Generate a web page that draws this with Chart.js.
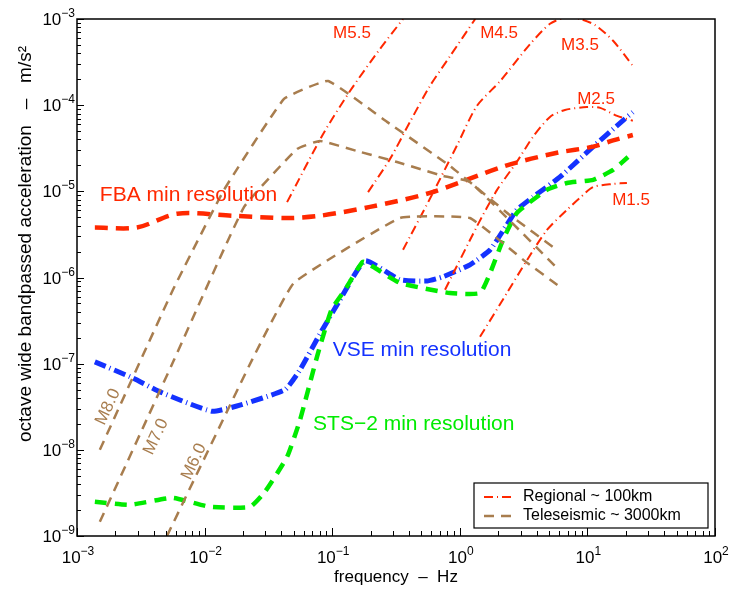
<!DOCTYPE html>
<html>
<head>
<meta charset="utf-8">
<script src="https://cdn.jsdelivr.net/npm/chart.js@4.4.1/dist/chart.umd.min.js"></script>
<style>
html, body { margin: 0; padding: 0; background: #fff; }
</style>
</head>
<body>
<canvas id="c" width="733" height="592"></canvas>
<script>
// axis ticks (labels are 10 raised to these exponents)
var xTickVals = [1e-3, 1e-2, 1e-1, 1e0, 1e1, 1e2];
var xTickExp = ['−3', '−2', '−1', '0', '1', '2'];
var yTickVals = [1e-9, 1e-8, 1e-7, 1e-6, 1e-5, 1e-4, 1e-3];
var yTickExp = ['−9', '−8', '−7', '−6', '−5', '−4', '−3'];

// instrument noise floors (Hz, m/s^2)
var fbaFreq = [0.00138, 0.00295, 0.0061, 0.0167, 0.0443, 0.080, 0.198, 0.583, 2.34, 5.78, 11.1, 15.9, 22.7];
var fbaAcc = [3.8e-6, 3.8e-6, 5.5e-6, 5.2e-6, 4.9e-6, 5.2e-6, 6.6e-6, 9.6e-6, 2.0e-5, 2.8e-5, 3.3e-5, 3.9e-5, 4.5e-5];
var vseFreq = [0.00138, 0.00275, 0.00447, 0.0114, 0.0189, 0.0427, 0.056, 0.080, 0.115, 0.181, 0.34, 0.553, 0.738, 1.2, 1.73, 2.34, 2.8, 3.75, 6.1, 11.1, 18.0, 22.7];
var vseAcc = [1.05e-7, 6.8e-8, 4.7e-8, 2.8e-8, 3.3e-8, 5.0e-8, 8.5e-8, 2.2e-7, 5.5e-7, 1.56e-6, 9.4e-7, 9.1e-7, 1.02e-6, 1.4e-6, 2.1e-6, 4.1e-6, 6.1e-6, 8.6e-6, 1.47e-5, 3.3e-5, 6.2e-5, 8.3e-5];
var stsFreq = [0.00138, 0.0026, 0.00556, 0.011, 0.0227, 0.0297, 0.0443, 0.056, 0.076, 0.0986, 0.126, 0.174, 0.209, 0.34, 0.838, 1.44, 1.73, 2.18, 2.8, 4.82, 6.92, 11.1, 15.9, 20.8];
var stsAcc = [2.5e-9, 2.3e-9, 2.77e-9, 2.18e-9, 2.18e-9, 3.26e-9, 8.3e-9, 2.23e-8, 1.2e-7, 4.2e-7, 7.2e-7, 1.52e-6, 1.33e-6, 8.65e-7, 6.6e-7, 6.6e-7, 1.13e-6, 2.73e-6, 5.6e-6, 1.04e-5, 1.25e-5, 1.36e-5, 1.77e-5, 2.5e-5];

// regional events ~100km
var m55Freq = [0.0443, 0.0847, 0.138, 0.237, 0.359];
var m55Acc = [7.5e-6, 4.6e-5, 1.46e-4, 4.5e-4, 1.0e-3];
var m45Freq = [0.191, 0.284, 0.407, 0.583, 0.838, 1.32];
var m45Acc = [9.8e-6, 2.38e-5, 6.4e-5, 1.67e-4, 3.7e-4, 1.0e-3];
var m35Freq = [0.359, 0.583, 0.95, 1.36, 2.07, 3.55, 5.09, 6.67, 8.75, 11.5, 15.9, 22.7];
var m35Acc = [2.1e-6, 8.2e-6, 3.4e-5, 9.8e-5, 1.9e-4, 5.1e-4, 8.8e-4, 1.03e-3, 1.0e-3, 8.5e-4, 5.6e-4, 2.85e-4];
var m25Freq = [0.766, 1.36, 1.96, 2.8, 3.75, 5.09, 6.67, 9.9, 12.6, 17.1, 22.7];
var m25Acc = [7.2e-7, 3.9e-6, 1.04e-5, 2.2e-5, 4.3e-5, 7.3e-5, 8.8e-5, 9.5e-5, 9.3e-5, 7.5e-5, 6.6e-5];
var m15Freq = [1.44, 2.34, 3.37, 4.82, 6.92, 8.75, 11.1, 15.9, 20.4];
var m15Acc = [2.05e-7, 6.6e-7, 1.6e-6, 3.56e-6, 6.1e-6, 8.4e-6, 1.12e-5, 1.22e-5, 1.25e-5];

// teleseismic events ~3000km
var m80Freq = [0.00151, 0.00565, 0.0142, 0.0419, 0.0927, 0.269, 0.838, 2.47, 5.78];
var m80Acc = [1.0e-8, 7.2e-7, 1.04e-5, 1.18e-4, 1.91e-4, 6.4e-5, 1.97e-5, 5.3e-6, 2.09e-6];
var m70Freq = [0.00151, 0.00575, 0.0204, 0.053, 0.080, 0.156, 0.322, 0.738, 1.2, 5.78];
var m70Acc = [1.46e-9, 1.1e-7, 6.6e-6, 3.1e-5, 3.85e-5, 2.94e-5, 2.19e-5, 1.51e-5, 1.29e-5, 1.29e-6];
var m60Freq = [0.00507, 0.0235, 0.0501, 0.34, 1.2, 3.37, 6.1];
var m60Acc = [1.0e-9, 1.1e-7, 8.65e-7, 4.9e-6, 4.9e-6, 1.48e-6, 7.8e-7];

// text annotations (anchored in data units)
var noteText = ['FBA min resolution', 'VSE min resolution', 'STS−2 min resolution'];
var noteFreq = [0.00151, 0.101, 0.0708];
var noteAcc = [9.1e-6, 1.45e-7, 2.0e-8];
var regLabels = ['M5.5', 'M4.5', 'M3.5', 'M2.5', 'M1.5'];
var regLabelFreq = [0.143, 2.03, 8.75, 11.7, 22.0];
var regLabelAcc = [6.9e-4, 6.9e-4, 4.93e-4, 1.18e-4, 7.94e-6];
var teleLabels = ['M8.0', 'M7.0', 'M6.0'];
var teleLabelFreq = [1.75e-3, 4.16e-3, 8.26e-3];
var teleLabelAcc = [3.15e-8, 1.42e-8, 7.3e-9];
var legendLabels = ['Regional ~ 100km', 'Teleseismic ~ 3000km'];

var RED = 'rgb(255,40,0)';
var BLUE = 'rgb(20,50,255)';
var GREEN = 'rgb(0,235,0)';
var BROWN = 'rgb(168,125,78)';
var FONT = "'Liberation Sans', Arial, Helvetica, sans-serif";
var REG_DASH = [9, 4, 1, 4];
var TELE_DASH = [10, 7];

function pts(xs, ys) {
	return xs.map(function(x, i) { return { x: x, y: ys[i] }; });
}

function isPow10(v) {
	var l = Math.log10(v);
	return Math.abs(l - Math.round(l)) < 1e-6;
}

function logTicks(lo, hi) {
	var out = [];
	for (var e = lo; e <= hi; e++) {
		for (var m = 1; m <= 9; m++) {
			if (e === hi && m > 1) break;
			out.push({ value: m * Math.pow(10, e) });
		}
	}
	return out;
}

function regional(xs, ys) {
	return { data: pts(xs, ys), borderColor: RED, borderWidth: 2, borderDash: REG_DASH, tension: 0.25 };
}
function tele(xs, ys) {
	return { data: pts(xs, ys), borderColor: BROWN, borderWidth: 2.5, borderDash: TELE_DASH, tension: 0.1 };
}

// "10" with a raised exponent; align is 'center' or 'right'
function powLabel(ctx, exp, x, y, align) {
	ctx.font = '17px ' + FONT;
	var wb = ctx.measureText('10').width;
	ctx.font = '12px ' + FONT;
	var we = ctx.measureText(exp).width;
	var x0 = align === 'right' ? x - wb - we : x - (wb + we) / 2;
	ctx.textAlign = 'left';
	ctx.textBaseline = 'alphabetic';
	ctx.font = '17px ' + FONT;
	ctx.fillText('10', x0, y + 6);
	ctx.font = '12px ' + FONT;
	ctx.fillText(exp, x0 + wb, y - 2);
}

var decor = {
	id: 'decor',
	afterDatasetsDraw: function(chart) {
		var ctx = chart.ctx;
		var xs = chart.scales.x, ys = chart.scales.y;
		ctx.save();

		// big instrument labels
		var noteColors = [RED, BLUE, GREEN];
		ctx.font = '21px ' + FONT;
		ctx.textAlign = 'left';
		ctx.textBaseline = 'middle';
		noteText.forEach(function(t, i) {
			ctx.fillStyle = noteColors[i];
			ctx.fillText(t, xs.getPixelForValue(noteFreq[i]), ys.getPixelForValue(noteAcc[i]));
		});

		// magnitude labels
		ctx.font = '17px ' + FONT;
		ctx.textAlign = 'center';
		ctx.fillStyle = RED;
		regLabels.forEach(function(t, i) {
			ctx.fillText(t, xs.getPixelForValue(regLabelFreq[i]), ys.getPixelForValue(regLabelAcc[i]));
		});
		ctx.fillStyle = BROWN;
		ctx.font = '17px ' + FONT;
		teleLabels.forEach(function(t, i) {
			ctx.save();
			ctx.translate(xs.getPixelForValue(teleLabelFreq[i]), ys.getPixelForValue(teleLabelAcc[i]));
			ctx.rotate(-65 * Math.PI / 180);
			ctx.fillText(t, 0, 0);
			ctx.restore();
		});
		ctx.restore();
	},
	afterDraw: function(chart) {
		var ctx = chart.ctx, a = chart.chartArea;
		var xs = chart.scales.x, ys = chart.scales.y;
		ctx.save();

		// inward tick marks on left and bottom
		ctx.strokeStyle = '#000';
		ctx.lineWidth = 1;
		xs.ticks.forEach(function(t) {
			var p = Math.round(xs.getPixelForValue(t.value)) + 0.5;
			ctx.beginPath();
			ctx.moveTo(p, a.bottom);
			ctx.lineTo(p, a.bottom - (isPow10(t.value) ? 8 : 5));
			ctx.stroke();
		});
		ys.ticks.forEach(function(t) {
			var p = Math.round(ys.getPixelForValue(t.value)) + 0.5;
			ctx.beginPath();
			ctx.moveTo(a.left, p);
			ctx.lineTo(a.left + (isPow10(t.value) ? 7 : 4), p);
			ctx.stroke();
		});

		// axes box
		ctx.lineWidth = 1.5;
		ctx.strokeRect(a.left, a.top, a.right - a.left, a.bottom - a.top);

		// tick labels
		ctx.fillStyle = '#000';
		xTickVals.forEach(function(v, i) {
			powLabel(ctx, xTickExp[i], xs.getPixelForValue(v) + 1, a.bottom + 21, 'center');
		});
		yTickVals.forEach(function(v, i) {
			powLabel(ctx, yTickExp[i], a.left - 2, ys.getPixelForValue(v), 'right');
		});

		// y axis title
		ctx.font = '19px ' + FONT;
		ctx.save();
		ctx.translate(31, 244);
		ctx.rotate(-Math.PI / 2);
		ctx.textAlign = 'center';
		ctx.textBaseline = 'alphabetic';
		ctx.fillText('octave wide bandpassed acceleration   –   m/s²', 0, 0);
		ctx.restore();

		// x axis title
		ctx.font = '17px ' + FONT;
		ctx.textAlign = 'center';
		ctx.textBaseline = 'middle';
		ctx.fillText('frequency  –  Hz', (a.left + a.right) / 2, 577);

		// legend
		var lw = 234, lh = 45;
		var lx = a.right - 241, ly = a.bottom - 53;
		ctx.fillStyle = '#fff';
		ctx.fillRect(lx, ly, lw, lh);
		ctx.strokeStyle = '#000';
		ctx.lineWidth = 1.2;
		ctx.strokeRect(lx, ly, lw, lh);
		var legColors = [RED, BROWN];
		var legDash = [REG_DASH, TELE_DASH];
		var legWidth = [2, 2.5];
		legendLabels.forEach(function(t, i) {
			var yy = ly + 14 + i * 19;
			ctx.strokeStyle = legColors[i];
			ctx.lineWidth = legWidth[i];
			ctx.setLineDash(legDash[i]);
			ctx.beginPath();
			ctx.moveTo(lx + 10, yy);
			ctx.lineTo(lx + 40, yy);
			ctx.stroke();
			ctx.setLineDash([]);
			ctx.fillStyle = '#000';
			ctx.font = '16px ' + FONT;
			ctx.textAlign = 'left';
			ctx.textBaseline = 'middle';
			ctx.fillText(t, lx + 49, yy);
		});
		ctx.restore();
	}
};

var ctx = document.getElementById('c').getContext('2d');
new Chart(ctx, {
	type: 'line',
	data: {
		datasets: [
			tele(m80Freq, m80Acc),
			tele(m70Freq, m70Acc),
			tele(m60Freq, m60Acc),
			regional(m55Freq, m55Acc),
			regional(m45Freq, m45Acc),
			regional(m35Freq, m35Acc),
			regional(m25Freq, m25Acc),
			regional(m15Freq, m15Acc),
			{ data: pts(fbaFreq, fbaAcc), borderColor: RED, borderWidth: 4.5, borderDash: [13, 8], tension: 0.3 },
			{ data: pts(stsFreq, stsAcc), borderColor: GREEN, borderWidth: 4.5, borderDash: [12, 8], tension: 0.15 },
			{ data: pts(vseFreq, vseAcc), borderColor: BLUE, borderWidth: 5, borderDash: [12, 4, 1, 4], tension: 0.15 }
		]
	},
	options: {
		responsive: false,
		animation: false,
		devicePixelRatio: 1,
		layout: { padding: { top: 19, right: 18, left: 0, bottom: 0 } },
		elements: { point: { radius: 0 } },
		plugins: { legend: { display: false }, tooltip: { enabled: false } },
		scales: {
			x: {
				type: 'logarithmic',
				min: 1e-3,
				max: 1e2,
				afterBuildTicks: function(s) { s.ticks = logTicks(-3, 2); },
				afterFit: function(s) { s.height = 56; },
				grid: { display: false, drawTicks: false },
				border: { display: false },
				ticks: { display: false, autoSkip: false }
			},
			y: {
				type: 'logarithmic',
				min: 1e-9,
				max: 1e-3,
				afterBuildTicks: function(s) { s.ticks = logTicks(-9, -3); },
				afterFit: function(s) { s.width = 77; },
				grid: { display: false, drawTicks: false },
				border: { display: false },
				ticks: { display: false, autoSkip: false }
			}
		}
	},
	plugins: [decor]
});
</script>
</body>
</html>
